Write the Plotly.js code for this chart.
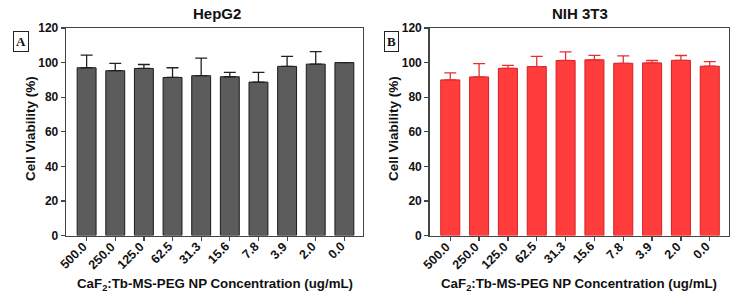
<!DOCTYPE html>
<html>
<head>
<meta charset="utf-8">
<script src="https://cdn.plot.ly/plotly-3.0.1.min.js"></script>
<style>html,body{margin:0;padding:0;background:#fff;}#chart{width:737px;height:302px;}</style>
</head>
<body>
<div id="chart"></div>
<script>
// Data
var concentrations = ["500.0","250.0","125.0","62.5","31.3","15.6","7.8","3.9","2.0","0.0"];
var hepg2Mean = [97.0, 95.3, 96.6, 91.4, 92.4, 91.8, 88.7, 97.8, 99.1, 100.0];
var hepg2Err  = [7.3, 4.2, 2.3, 5.6, 10.2, 2.5, 5.6, 5.8, 7.2, 0.0];
var nihMean   = [90.0, 91.7, 96.7, 97.7, 101.2, 101.6, 99.6, 99.8, 101.3, 97.9];
var nihErr    = [4.0, 7.7, 1.7, 5.9, 5.0, 2.6, 4.3, 1.4, 2.8, 2.7];
var yTicks = [0, 20, 40, 60, 80, 100, 120];
var panelTitles = ["HepG2", "NIH 3T3"];
var panelLabels = ["A", "B"];
var xTitle = "CaF<sub>2</sub>:Tb-MS-PEG NP Concentration (ug/mL)";
var yTitle = "Cell Viability (%)";

var W = 737, H = 302;
function px(x){ return x / W; }
function py(y){ return 1 - y / H; }

var zeros = concentrations.map(function(){ return 0; });

var traces = [
  {
    type: "bar", x: concentrations, y: hepg2Mean, xaxis: "x", yaxis: "y",
    marker: {color: "#5c5c5c", line: {color: "#1a1a1a", width: 1}},
    error_y: {type: "data", array: hepg2Err, arrayminus: zeros, symmetric: false,
              color: "#222", thickness: 1.3, width: 6},
    showlegend: false, hoverinfo: "skip"
  },
  {
    type: "bar", x: concentrations, y: nihMean, xaxis: "x2", yaxis: "y2",
    marker: {color: "#ff3d3d", line: {color: "#d81f1f", width: 1}},
    error_y: {type: "data", array: nihErr, arrayminus: zeros, symmetric: false,
              color: "#e53030", thickness: 1.3, width: 6},
    showlegend: false, hoverinfo: "skip"
  }
];

var yTickFont = {family: "Liberation Sans, Arial, sans-serif", size: 12, color: "#111", weight: "bold"};
var xTickFont = {family: "Liberation Sans, Arial, sans-serif", size: 12.5, color: "#111", weight: "bold"};

function xAxis(domain, anchor){
  return {
    domain: domain, anchor: anchor, type: "category",
    categoryorder: "array", categoryarray: concentrations,
    range: [-0.72, 9.65],
    showline: true, linecolor: "#444", linewidth: 1.3, mirror: true,
    ticks: "outside", ticklen: 4, tickwidth: 1.2, tickcolor: "#444",
    showticklabels: false,
    showgrid: false, zeroline: false, fixedrange: true
  };
}
function yAxis(domain, anchor){
  return {
    domain: domain, anchor: anchor, range: [0, 120],
    tickvals: yTicks, ticktext: yTicks.map(String),
    showline: true, linecolor: "#444", linewidth: 1.3, mirror: true,
    ticks: "outside", ticklen: 4, tickwidth: 1.2, tickcolor: "#444",
    tickfont: yTickFont, showgrid: false, zeroline: false, fixedrange: true
  };
}

var yDom = [py(235.5), py(28)];
var layout = {
  width: W, height: H,
  margin: {l: 0, r: 0, t: 0, b: 0},
  paper_bgcolor: "#fff", plot_bgcolor: "#fff",
  bargap: 0.34,
  xaxis: xAxis([px(66), px(363)], "y"),
  yaxis: yAxis(yDom, "x"),
  xaxis2: xAxis([px(429.5), px(728.5)], "y2"),
  yaxis2: yAxis(yDom, "x2"),
  annotations: [],
  font: {family: "Liberation Sans, Arial, sans-serif"}
};

var titleX = [217, 580];
var labelX = [21, 391.5];
var yTitleX = [30, 393];
var xTitleX = [215, 579];
var xrefs = ["x", "x2"];
var boldFont = function(sz){ return {family: "Liberation Sans, Arial, sans-serif", size: sz, color: "#111", weight: "bold"}; };

for (var i = 0; i < 2; i++) {
  layout.annotations.push({
    text: panelTitles[i], xref: "paper", yref: "paper",
    x: px(titleX[i]), y: py(13), xanchor: "center", yanchor: "middle",
    showarrow: false, font: boldFont(15)
  });
  layout.annotations.push({
    text: panelLabels[i], xref: "paper", yref: "paper",
    x: px(labelX[i]), y: py(41), xanchor: "center", yanchor: "middle",
    showarrow: false, bordercolor: "#222", borderwidth: 1, borderpad: 2,
    font: {family: "Liberation Serif, Times New Roman, serif", size: 13, color: "#111", weight: "bold"}
  });
  layout.annotations.push({
    text: yTitle, xref: "paper", yref: "paper",
    x: px(yTitleX[i]), y: py(129), xanchor: "center", yanchor: "middle",
    textangle: -90, showarrow: false, font: boldFont(13.5)
  });
  layout.annotations.push({
    text: xTitle, xref: "paper", yref: "paper",
    x: px(xTitleX[i]), y: py(284), xanchor: "center", yanchor: "middle",
    showarrow: false, font: boldFont(13.3)
  });
  // rotated category tick labels, placed at each category index
  concentrations.forEach(function(c, j){
    layout.annotations.push({
      text: c, xref: xrefs[i], yref: "paper",
      x: j, y: py(238.5), xanchor: "right", yanchor: "top",
      xshift: 4, textangle: -45, showarrow: false,
      borderpad: 0, font: xTickFont
    });
  });
}

Plotly.newPlot("chart", traces, layout, {staticPlot: true, displayModeBar: false});
</script>
</body>
</html>
